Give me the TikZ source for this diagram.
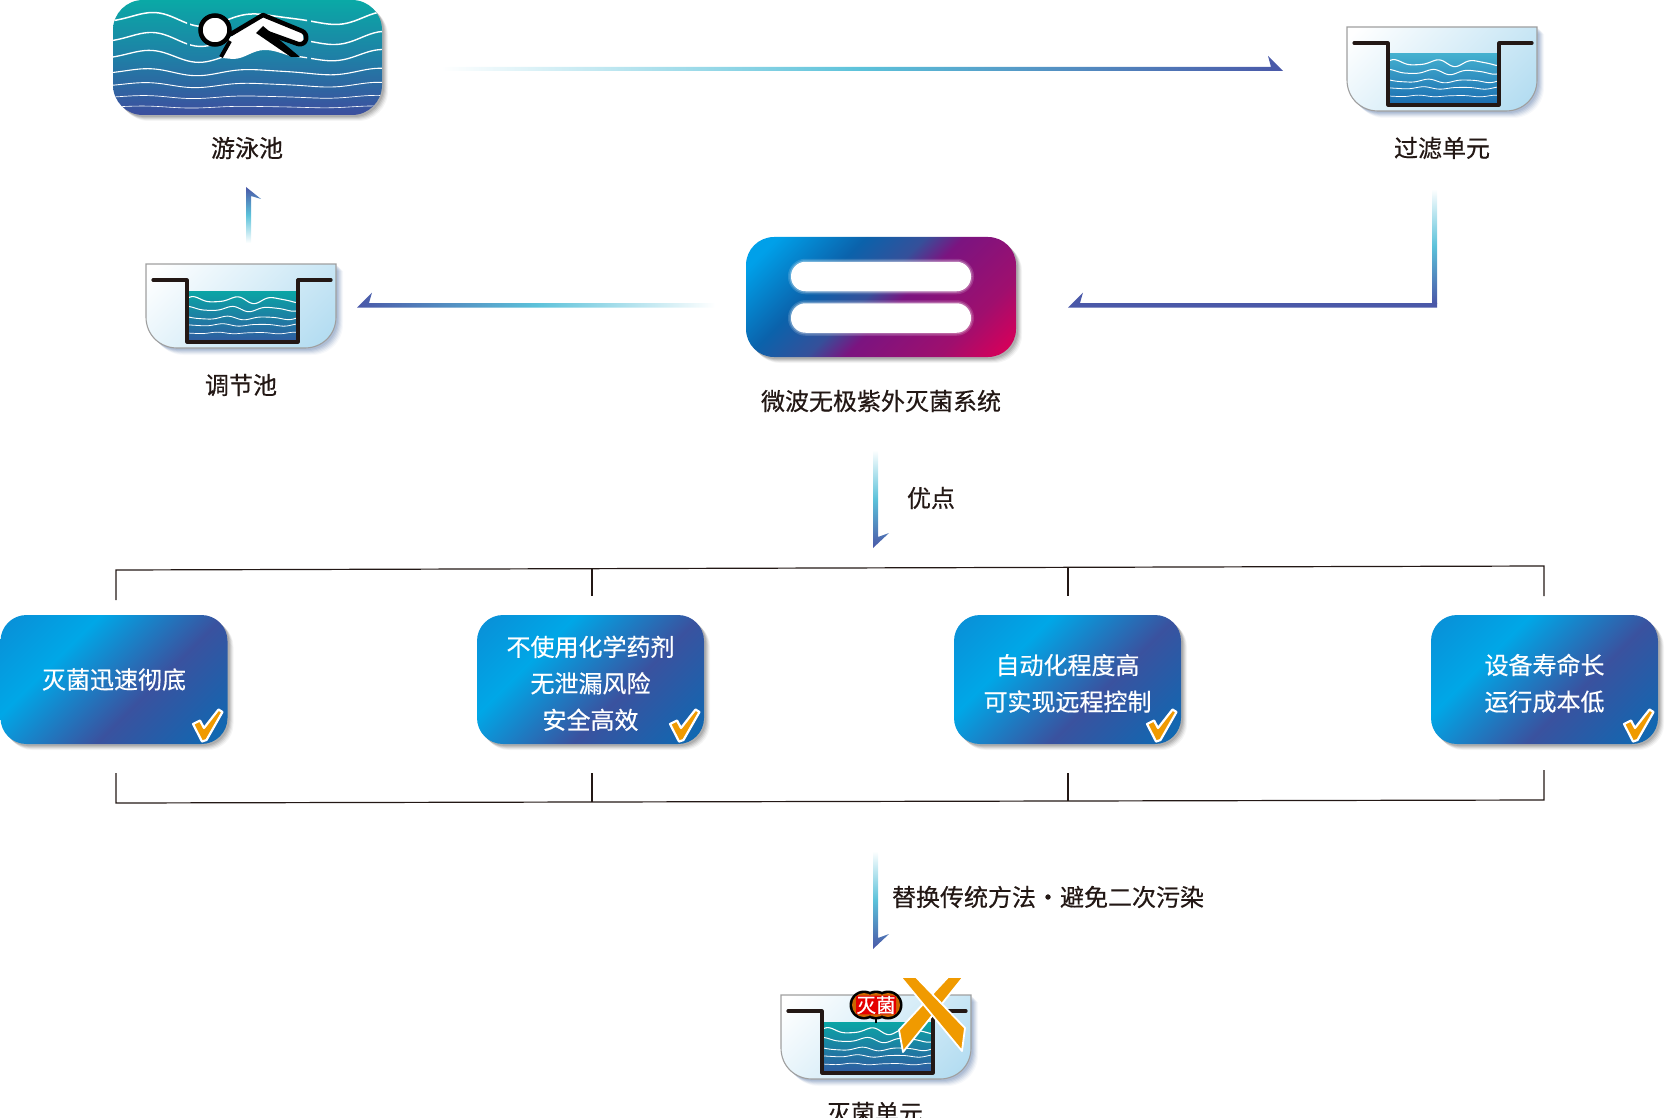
\documentclass[tikz,border=0pt]{standalone}
\usepackage{fontspec}
\setmainfont{Noto Sans CJK SC}[FakeBold=0.5]
\usetikzlibrary{calc,shadows}
\definecolor{ink}{HTML}{231815}
\definecolor{lampA}{HTML}{00A0E9}
\definecolor{lampB}{HTML}{0B62AB}
\definecolor{lampC}{HTML}{35509A}
\definecolor{lampD}{HTML}{7B1480}
\definecolor{lampF}{HTML}{9F0F6E}
\definecolor{lampE}{HTML}{D6005A}
\definecolor{boxA}{HTML}{0A8ED6}
\definecolor{boxB}{HTML}{00A7E7}
\definecolor{boxC}{HTML}{3A529F}
\definecolor{boxD}{HTML}{0A6BB4}
\definecolor{poolT}{HTML}{0AA9A6}
\definecolor{poolM}{HTML}{1F7FA6}
\definecolor{poolB}{HTML}{3D4E9E}
\definecolor{glassA}{HTML}{FFFFFF}
\definecolor{glassB}{HTML}{AEDAF0}
\definecolor{flowC}{HTML}{5CC2DA}
\definecolor{flowD}{HTML}{4A58A8}
\definecolor{orangeX}{HTML}{F09A00}
\definecolor{waterAt}{HTML}{44B0CF}
\definecolor{waterAb}{HTML}{1A6CB0}
\definecolor{waterBt}{HTML}{0AA5A5}
\definecolor{waterBb}{HTML}{2F5AA0}
\definecolor{shadeblue}{HTML}{2F5590}
\pgfdeclareverticalshading{lampgrad}{100bp}{color(0bp)=(lampA); color(29bp)=(lampA); color(40.4bp)=(lampB); color(48bp)=(lampC); color(53bp)=(lampD); color(65bp)=(lampF); color(73bp)=(lampE); color(100bp)=(lampE)}
\pgfdeclareverticalshading{boxgrad}{100bp}{color(0bp)=(boxA); color(25bp)=(boxA); color(39bp)=(boxB); color(56.5bp)=(boxC); color(75bp)=(boxD); color(100bp)=(boxD)}
\pgfdeclareverticalshading{poolgrad}{100bp}{color(0bp)=(poolB); color(25bp)=(poolB); color(50bp)=(poolM); color(75bp)=(poolT); color(100bp)=(poolT)}
\pgfdeclareverticalshading{glassgrad}{100bp}{color(0bp)=(glassA); color(27bp)=(glassA); color(75bp)=(glassB); color(100bp)=(glassB)}
\pgfdeclareverticalshading{flowgrad}{100bp}{color(0bp)=(white); color(25bp)=(white); color(50bp)=(flowC); color(75bp)=(flowD); color(100bp)=(flowD)}
\pgfdeclareverticalshading{waterA}{100bp}{color(0bp)=(waterAb); color(25bp)=(waterAb); color(75bp)=(waterAt); color(100bp)=(waterAt)}
\pgfdeclareverticalshading{waterB}{100bp}{color(0bp)=(waterBb); color(25bp)=(waterBb); color(75bp)=(waterBt); color(100bp)=(waterBt)}
\tikzset{
  softshadow/.style={
    general shadow={fill=black,opacity=.04,shadow xshift=6pt,shadow yshift=-6pt},
    general shadow={fill=black,opacity=.06,shadow xshift=5pt,shadow yshift=-5pt},
    general shadow={fill=black,opacity=.08,shadow xshift=4pt,shadow yshift=-4pt},
    general shadow={fill=black,opacity=.09,shadow xshift=3pt,shadow yshift=-3pt},
    general shadow={fill=black,opacity=.1,shadow xshift=2pt,shadow yshift=-2pt}},
  blueshadow/.style={
    general shadow={fill=shadeblue,opacity=.04,shadow xshift=7pt,shadow yshift=-7pt},
    general shadow={fill=shadeblue,opacity=.06,shadow xshift=6pt,shadow yshift=-6pt},
    general shadow={fill=shadeblue,opacity=.08,shadow xshift=5pt,shadow yshift=-5pt},
    general shadow={fill=shadeblue,opacity=.09,shadow xshift=4pt,shadow yshift=-4pt},
    general shadow={fill=shadeblue,opacity=.1,shadow xshift=3pt,shadow yshift=-3pt},
    general shadow={fill=shadeblue,opacity=.1,shadow xshift=2pt,shadow yshift=-2pt}},
  label/.style={text=ink,font=\fontsize{24}{28}\selectfont,inner sep=0pt},
  % true 45-degree gradient: a square shade, clipped to the node or path
  diag/.style n args={2}{path picture={\shade[shading=#1,shading angle=225]
     ($(path picture bounding box.center)+(-#2,-#2)$) rectangle ($(path picture bounding box.center)+(#2,#2)$);}},
  boxnode/.style={softshadow,diag={boxgrad}{126},rounded corners=26pt,
    minimum width=227pt,minimum height=129pt,inner sep=0pt,outer sep=0pt,
    text=white,align=center,font=\fontsize{24}{36.5}\selectfont},
  lampnode/.style={softshadow,diag={lampgrad}{138},rounded corners=28pt,
    minimum width=270pt,minimum height=120pt,inner sep=0pt,outer sep=0pt},
  poolnode/.style={softshadow,shade,shading=poolgrad,rounded corners=30pt,
    minimum width=269pt,minimum height=115pt,inner sep=0pt,outer sep=0pt},
  barnode/.style={fill=white,rounded corners=14.5pt,minimum width=180pt,minimum height=29.5pt,inner sep=0pt,
    preaction={draw=white,opacity=.15,line width=6pt},
    preaction={draw=white,opacity=.25,line width=3pt}},
  flow/.style={shade,shading=flowgrad},
  bracket/.style={draw=ink,line width=1.2pt},
  wall/.style={draw=ink,line width=3.2pt,line join=round,line cap=round},
  cross/.style={fill=orangeX,draw=white,line width=1.8pt,line join=round},
  tick/.style={fill=orangeX,draw=white,line width=2.2pt,line join=round},
}
% a gradient arrow with a half head: from, to, shading angle, barb, notch, width vector
\newcommand\flowarrow[6]{\path[flow,shading angle=#3] (#1) -- (#2) -- ($(#2)+(#4)$) -- ($(#2)+(#5)$) -- ($(#1)+(#6)$) -- cycle;}
% wave: x from, x to, y, amplitude, rate, phase, line width; x relative to origin #8
\newcommand\wavy[8]{\draw[white,line width=#7pt] plot[domain=#1:#2,samples=70,smooth] ({\x+#8},{#3-#4*(0.8*sin(#5*\x+#6)+0.28*sin(1.6*#5*\x+2*#6))});}
% tank drawn in the frame of the filter tank, moved by dx,dy
\newcommand\tankshape[3]{%
\begin{scope}[shift={(#1,#2)}]
  \path[blueshadow,diag={glassgrad}{97},draw=gray!75,line width=1.1pt]
    (1347,27) -- (1537,27) -- (1537,80) .. controls (1537,98) and (1523,111) .. (1506,111)
    -- (1378,111) .. controls (1361,111) and (1347,98) .. (1347,80) -- cycle;
  \path[shade,shading=#3] (1388,54) rectangle (1499,105);
  \begin{scope}
    \clip (1388,54) rectangle (1499,105);
    \wavy{0}{111}{63}{3.4}{9}{20}{1.1}{1388}
    \wavy{0}{111}{72}{2.6}{9}{60}{1}{1388}
    \wavy{0}{111}{81}{1.8}{9}{100}{.9}{1388}
    \wavy{0}{111}{88}{1.2}{9}{140}{.8}{1388}
    \wavy{0}{111}{96}{.8}{9}{180}{.7}{1388}
  \end{scope}
  \draw[wall] (1354,43) -- (1388,43) -- (1388,105) -- (1499,105) -- (1499,43) -- (1532,43);
\end{scope}}
\newcommand\tickmark[1]{\begin{scope}[shift={(#1,0)}]
  \path[tick] (193,724) -- (200,720.5) -- (204,728) -- (218.5,709.5) -- (222.5,712) -- (206.5,740) -- (202,741.5) -- cycle;
\end{scope}}
\newcommand\lift{\rule{0pt}{28pt}}
\begin{document}
\begin{tikzpicture}[x=1pt,y=-1pt]
\useasboundingbox (0,0) rectangle (1668,1118);
% ---- pool
\node[poolnode] (pool) at (247.5,57.5) {};
\begin{scope}
  \clip[rounded corners=30pt] (113,0) rectangle (382,115);
  \begin{scope}
    \clip (113,0) rectangle (187,48) (190,0) rectangle (307,48) (311,0) rectangle (382,48);
    \wavy{113}{382}{19}{7}{3}{15}{1.5}{0}
    \wavy{113}{382}{39}{7}{3}{20}{1.4}{0}
  \end{scope}
  \begin{scope}
    \clip (113,48) rectangle (232,66) (294,48) rectangle (307,66) (311,48) rectangle (382,66);
    \wavy{113}{382}{56}{6}{3}{25}{1.3}{0}
  \end{scope}
  \foreach \yy/\aa/\ph/\lw in {72/3.5/30/1.1,85/2.5/35/.9,97/1.5/40/.7,107/1/45/.6}{
    \wavy{113}{382}{\yy}{\aa}{3}{\ph}{\lw}{0}
  }
\end{scope}
% swimmer
\fill[white] (222,58) -- (229,38) -- (263,15) -- (302,31) -- (304,42) -- (298,44) -- (262,31) -- (294,57)
  .. controls (282,54) and (275,50) .. (265,50) .. controls (252,50) and (245,59) .. (233,59) -- cycle;
\fill[black] (256,33) -- (263,26) -- (300,57) -- (291,57) -- cycle;
\draw[black,line width=4.5pt,line join=round,line cap=round] (231,34) -- (263,15) -- (302,31)
  .. controls (309,34) and (307,46) .. (298,44) -- (262,31);
\draw[black,line width=4pt] (221,57) -- (230,41);
\draw[black,line width=4.5pt,fill=white] (215,30) circle [radius=14.5pt];
\node[label] (poollabel) at (247,148) {游泳池};
% ---- tanks
\tankshape{0}{0}{waterA}
\node[label] (filterlabel) at (1442,148) {过滤单元};
\tankshape{-1201}{237}{waterB}
\node[label] (adjustlabel) at (241,385) {调节池};
\tankshape{-566}{968}{waterB}
\node[label] (sterlabel) at (875,1113) {灭菌单元};
% badge
\fill[black] (864,1005) circle [radius=14.5pt] (888,1005) circle [radius=14.5pt] (876,1005) circle [radius=14.5pt];
\draw[black,line width=1.5pt] (876,1017) -- (876,1023);
\fill[orange!80!black] (864,1005) circle [radius=12pt] (888,1005) circle [radius=12pt] (876,1005) circle [radius=12pt];
\node[fill=red!90!black,rounded corners=2pt,inner sep=.5pt,text=white,font=\fontsize{19.5}{20}\selectfont] (badge) at (876,1005) {灭菌};
% X mark
\begin{scope}
  \clip (880,978) rectangle (990,1060);
  \path[cross] (950,975) -- (965,975) -- (903,1052) -- (899,1030) -- cycle;
  \path[cross] (899,975) -- (914,975) -- (965,1028) -- (962,1051) -- cycle;
\end{scope}
% ---- lamp
\node[lampnode] (lamp) at (881,297) {};
\node[barnode] (bar1) at (881,276.5) {};
\node[barnode] (bar2) at (881,318) {};
\node[label] (lamplabel) at (881,401) {微波无极紫外灭菌系统};
% ---- flows
\coordinate (f1a) at (441,71); \coordinate (f1b) at (1283,71);
\flowarrow{f1a}{f1b}{-90}{-15,-15}{-12,-4}{0,-4}
\coordinate (f2a) at (1432,189); \coordinate (f2b) at (1432,303); \coordinate (f2c) at (1437,307.5); \coordinate (f2d) at (1068,307.5);
\path[flow,shading angle=180] (f2a) -- (f2b) -- ($(f2b)+(5,0)$) -- ($(f2a)+(5,0)$) -- cycle;
\fill[flowD] (f2c) -- (f2d) -- ($(f2d)+(15,-15)$) -- ($(f2d)+(12,-4.5)$) -- ($(f2c)+(0,-4.5)$) -- cycle;
\coordinate (f3a) at (715,307.5); \coordinate (f3b) at (357,307.5);
\flowarrow{f3a}{f3b}{90}{15,-15}{12,-4.5}{0,-4.5}
\coordinate (f4a) at (246,243); \coordinate (f4b) at (246,187);
\flowarrow{f4a}{f4b}{0}{15,12}{5,9}{5,0}
\coordinate (f5a) at (873,450); \coordinate (f5b) at (873,548);
\flowarrow{f5a}{f5b}{180}{16,-15}{5,-11}{5,0}
\coordinate (f6a) at (873,851); \coordinate (f6b) at (873,949);
\flowarrow{f6a}{f6b}{180}{16,-15}{5,-11}{5,0}
\node[label] (adv) at (931,498) {优点};
\node[label] (swap) at (1048,897) {替换传统方法・避免二次污染};
% ---- brackets
\coordinate (t1) at (116,600); \coordinate (t1u) at (116,570);
\coordinate (t2) at (592,596); \coordinate (t2u) at (592,568.7);
\coordinate (t3) at (1068,596); \coordinate (t3u) at (1068,567.3);
\coordinate (t4) at (1544,596); \coordinate (t4u) at (1544,566);
\draw[bracket] (t1) -- (t1u) -- (t4u) -- (t4);
\draw[bracket] (t2u) -- (t2);
\draw[bracket] (t3u) -- (t3);
\coordinate (u1) at (116,773); \coordinate (u1d) at (116,803);
\coordinate (u2) at (592,773); \coordinate (u2d) at (592,802);
\coordinate (u3) at (1068,773); \coordinate (u3d) at (1068,801);
\coordinate (u4) at (1544,770); \coordinate (u4d) at (1544,800);
\draw[bracket] (u1) -- (u1d) -- (u4d) -- (u4);
\draw[bracket] (u2) -- (u2d);
\draw[bracket] (u3) -- (u3d);
% ---- boxes
\node[boxnode] (b1) at (114,679.5) {灭菌迅速彻底};
\node[boxnode] (b2) at (590.5,679.5) {\lift 不使用化学药剂\\无泄漏风险\\安全高效};
\node[boxnode] (b3) at (1067.5,679.5) {\lift 自动化程度高\\可实现远程控制};
\node[boxnode] (b4) at (1544.5,679.5) {\lift 设备寿命长\\运行成本低};
\tickmark{0}\tickmark{477}\tickmark{954}\tickmark{1431}
\end{tikzpicture}
\end{document}
